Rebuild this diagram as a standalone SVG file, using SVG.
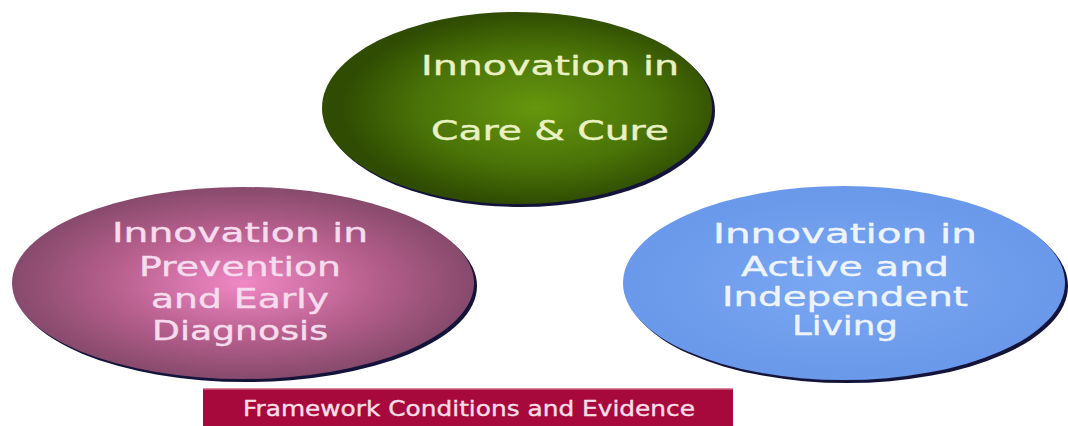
<svg xmlns="http://www.w3.org/2000/svg" width="1068" height="426" viewBox="0 0 1068 426">
<style>
.t{font-family:"DejaVu Sans","Verdana",sans-serif;text-anchor:middle;stroke-width:0.4}
.g{fill:#eaf2c4;stroke:#eaf2c4;font-size:27px}
.p{fill:#f6dcee;stroke:#f6dcee;font-size:26px}
.b{fill:#eef4ff;stroke:#eef4ff;font-size:26px}
.f{fill:#f8dde6;stroke:#f8dde6;font-size:21px}
.sh{fill:#14143a}
</style>
<defs>
<radialGradient id="gg" cx="0.55" cy="0.5" r="0.5">
<stop offset="0" stop-color="#66960e"/>
<stop offset="0.6" stop-color="#4a7408"/>
<stop offset="1" stop-color="#304c02"/>
</radialGradient>
<radialGradient id="pg" cx="0.5" cy="0.5" r="0.5">
<stop offset="0" stop-color="#f088c4"/>
<stop offset="0.55" stop-color="#b8608e"/>
<stop offset="1" stop-color="#874a6c"/>
</radialGradient>
<radialGradient id="bg" cx="0.5" cy="0.5" r="0.5">
<stop offset="0" stop-color="#7aa8f2"/>
<stop offset="1" stop-color="#6a98ea"/>
</radialGradient>
</defs>
<rect width="1068" height="426" fill="#ffffff"/>
<g id="care">
<ellipse class="sh" cx="520" cy="111" rx="195" ry="96"/>
<ellipse cx="517" cy="108" rx="195" ry="96" fill="url(#gg)"/>
<text class="t g" x="550" y="75" textLength="258" lengthAdjust="spacingAndGlyphs">Innovation in</text>
<text class="t g" x="550" y="140" textLength="238" lengthAdjust="spacingAndGlyphs">Care &amp; Cure</text>
</g>
<g id="prevention">
<ellipse class="sh" cx="246" cy="286" rx="231" ry="96"/>
<ellipse cx="243" cy="283" rx="231" ry="96" fill="url(#pg)"/>
<text class="t p" x="240" y="242" textLength="256" lengthAdjust="spacingAndGlyphs">Innovation in</text>
<text class="t p" x="240" y="276" textLength="202" lengthAdjust="spacingAndGlyphs">Prevention</text>
<text class="t p" x="240" y="308" textLength="178" lengthAdjust="spacingAndGlyphs">and Early</text>
<text class="t p" x="240" y="340" textLength="176" lengthAdjust="spacingAndGlyphs">Diagnosis</text>
</g>
<g id="living">
<ellipse class="sh" cx="847" cy="286" rx="221" ry="97"/>
<ellipse cx="844" cy="283" rx="221" ry="97" fill="url(#bg)"/>
<text class="t b" x="845" y="243" textLength="264" lengthAdjust="spacingAndGlyphs">Innovation in</text>
<text class="t b" x="845" y="276" textLength="208" lengthAdjust="spacingAndGlyphs">Active and</text>
<text class="t b" x="845" y="306" textLength="246" lengthAdjust="spacingAndGlyphs">Independent</text>
<text class="t b" x="845" y="335" textLength="106" lengthAdjust="spacingAndGlyphs">Living</text>
</g>
<g id="framework">
<rect x="203" y="388" width="530" height="40" fill="#a8093c"/>
<rect x="203" y="388" width="530" height="1.5" fill="#d88a9c"/>
<text class="t f" x="469" y="416" textLength="452" lengthAdjust="spacingAndGlyphs">Framework Conditions and Evidence</text>
</g>
<g id="connectors"/>
</svg>
